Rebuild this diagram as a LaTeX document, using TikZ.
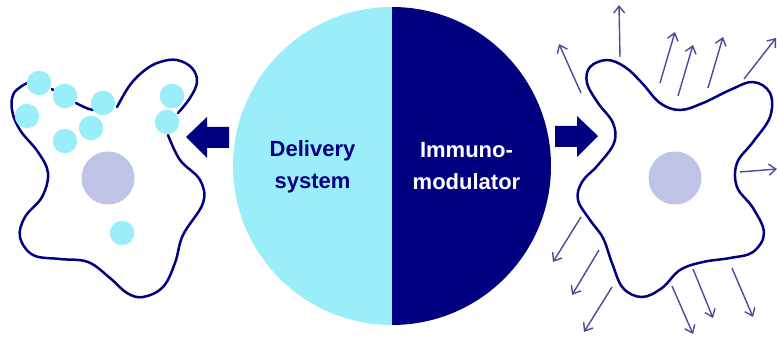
\documentclass[tikz,border=0pt]{standalone}
\usepackage{fontspec}
\setmainfont{Liberation Sans}
\usetikzlibrary{arrows.meta}
\definecolor{navy}{HTML}{000080}
\definecolor{lightc}{HTML}{99EEFA}
\definecolor{nuc}{HTML}{BFC3E5}
\definecolor{arrowc}{HTML}{4A4A9E}
\tikzset{
  membrane/.style={draw=navy,line width=2.5pt,line cap=round},
  dot/.style={circle,fill=lightc,minimum size=24.5pt,inner sep=0pt},
  nucleus/.style={circle,fill=nuc,minimum size=53pt,inner sep=0pt},
  release/.style={draw=arrowc,line width=1.4pt,-{Straight Barb[length=7pt,width=11pt,line width=1.4pt]}},
  blockarrow/.style={fill=navy},
  label/.style={font=\fontsize{22}{32}\selectfont\bfseries,align=center,inner sep=0pt}
}
\begin{document}
\begin{tikzpicture}[x=1pt,y=-1pt]
\useasboundingbox (0,0) rectangle (777,339);
% central disc
\fill[lightc] (392,7) arc[start angle=90,end angle=270,radius=159pt] -- cycle;
\fill[navy] (392,7) arc[start angle=90,end angle=-90,radius=159pt] -- cycle;
\node[label,text=navy] (deliv) at (312.5,167) {Delivery\\system};
\node[label,text=white] (immuno) at (466.5,166) {Immuno-\\modulator};
% block arrows
\fill[blockarrow] (186,137) -- (207,117) -- (207,127) -- (229,127) -- (229,148) -- (207,148) -- (207,158) -- cycle;
\fill[blockarrow] (598,136) -- (577,116) -- (577,126) -- (555,126) -- (555,147) -- (577,147) -- (577,157) -- cycle;
% left cell
\draw[membrane] plot[smooth,tension=0.62] coordinates {(27,83) (14,93) (12,110) (20,130) (38,152) (48,173) (42,197) (25,217) (20,237) (33,255) (60,259) (88,262) (110,278) (127,293) (143,297) (163,287) (175,263) (183,235) (203,203) (200,180) (180,160) (168,135)};
\draw[membrane] plot[smooth,tension=0.62] coordinates {(178,113) (190,98) (197,82) (192,68) (177,60) (160,62) (145,70) (130,85) (117,107)};
\draw[membrane] (52,89) -- (53,90);
\draw[membrane] (76,103) .. controls (82,106) and (87,109) .. (93,110);
\node[nucleus] (nucL) at (108,178) {};
\node[dot] (d1) at (39,83) {};
\node[dot] (d2) at (65,96) {};
\node[dot] (d3) at (103,103) {};
\node[dot] (d4) at (27,116) {};
\node[dot] (d5) at (91,128) {};
\node[dot] (d6) at (65,141) {};
\node[dot] (d7) at (172,96) {};
\node[dot] (d8) at (167,122) {};
\node[dot] (d9) at (122,233) {};
% right cell
\draw[membrane] plot[smooth cycle,tension=0.62] coordinates {(607,60) (590,67) (587,83) (598,103) (613,123) (614,143) (598,165) (582,182) (578,200) (590,220) (603,238) (612,263) (623,288) (642,297) (662,288) (680,270) (703,262) (730,258) (753,252) (764,233) (753,208) (737,187) (737,163) (753,142) (770,117) (770,93) (753,82) (730,90) (703,103) (680,110) (660,103) (642,83) (625,67)};
\node[nucleus] (nucR) at (675,178) {};
% released arrows
\foreach \a/\b/\c/\d in {
 581/93/559/44, 620/57/619/5, 660/83/675/32, 678/96/693/45, 708/88/723/37,
 744/79/776/38, 740/172/777/169, 581/217/553/262, 599/250/572/295, 612/287/584/332,
 672/286/693/334, 693/269/713/318, 732/268/753/317}
  \draw[release] (\a,\b) -- (\c,\d);
\end{tikzpicture}
\end{document}
